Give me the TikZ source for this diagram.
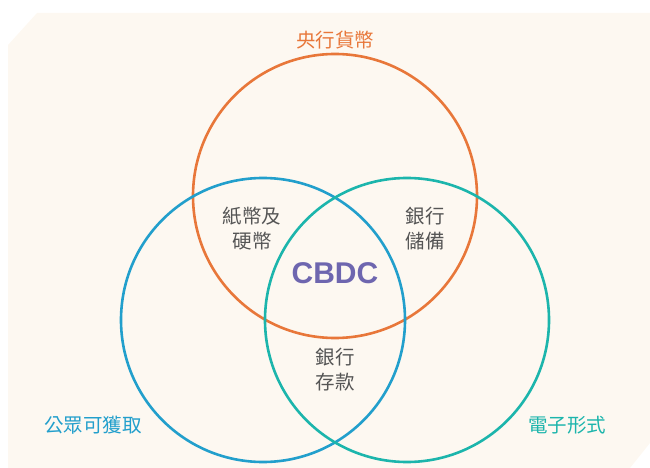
\documentclass[tikz,border=0pt]{standalone}
\usepackage{fontspec}
\newfontfamily\cjk{Noto Sans CJK TC}
\setsansfont{Liberation Sans}
\definecolor{bgc}{HTML}{FDF8F1}
\definecolor{orangec}{HTML}{E8773A}
\definecolor{bluec}{HTML}{229FCC}
\definecolor{tealc}{HTML}{1CB5AC}
\definecolor{purplec}{HTML}{6E66AF}
\definecolor{textc}{HTML}{555555}
\tikzset{
  ring/.style={draw=#1, line width=2.6pt},
  lbl/.style={font=\cjk\fontsize{19.5}{25}\selectfont, text=textc, align=center, inner sep=0pt},
  setlbl/.style={font=\cjk\fontsize{19.5}{25}\selectfont, text=#1, inner sep=0pt}
}
\begin{document}
\begin{tikzpicture}[x=1pt,y=-1pt]
\useasboundingbox (0,0) rectangle (650,468);
\fill[bgc] (8,45) -- (37,13) -- (650,13) -- (650,443) -- (630,468) -- (8,468) -- cycle;
\draw[ring=orangec] (335,196) circle[radius=142];
\draw[ring=bluec] (263,320) circle[radius=142];
\draw[ring=tealc] (407,320) circle[radius=142];
\node[setlbl=orangec] (cb) at (335,40) {央行貨幣};
\node[setlbl=bluec] (pa) at (93,425) {公眾可獲取};
\node[setlbl=tealc] (ef) at (567,425) {電子形式};
\node[lbl] (notes) at (252,229) {紙幣及\\硬幣};
\node[lbl] (reserves) at (425,229) {銀行\\儲備};
\node[lbl] (deposits) at (335,370) {銀行\\存款};
\node[font=\sffamily\bfseries\fontsize{30}{32}\selectfont, text=purplec, inner sep=0pt] (cbdc) at (335,273) {CBDC};
\end{tikzpicture}
\end{document}
